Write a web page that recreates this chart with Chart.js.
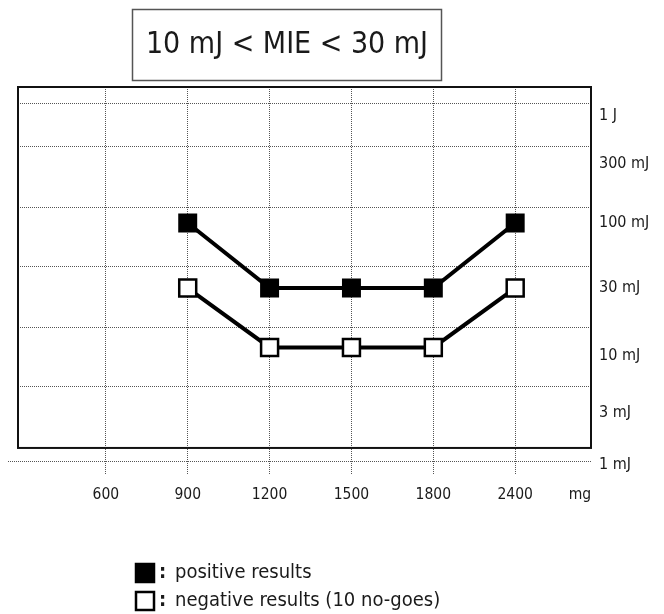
<!DOCTYPE html>
<html>
<head>
<meta charset="utf-8">
<script src="https://cdn.jsdelivr.net/npm/chart.js@4"></script>
<style>
  html, body { margin: 0; padding: 0; background: #fff; }
</style>
</head>
<body>
<canvas id="mieChart" width="664" height="614"></canvas>
<script>
const chartTitle = '10 mJ < MIE < 30 mJ';
const doses = ['600', '900', '1200', '1500', '1800', '2400'];
const doseUnit = 'mg';
// ignition energy in mJ for each dose, null = not tested
const positive = [null, 100, 30, 30, 30, 100];
const negative = [null, 30, 10, 10, 10, 30];
const seriesNames = ['positive results', 'negative results (10 no-goes)'];
const energyLabels = ['1 J', '300 mJ', '100 mJ', '30 mJ', '10 mJ', '3 mJ', '1 mJ'];
// where each energy label sits on the log axis (hand drawn original)
const labelLevels = [720, 300, 100, 30, 8.5, 3, 1.15];
// dotted horizontal rules of the original sheet
const gridLevels = [903, 408, 134, 44.4, 14.6, 4.82, 1.22];

const FONT = "'DejaVu Sans Condensed', 'DejaVu Sans', sans-serif";
const INK = '#1a1a1a';
const GRID = '#555';
const yMin = 0.946, yMax = 1236;
const frameFloor = 1.56;

Chart.defaults.font.family = FONT;
Chart.defaults.color = INK;

const framePlugin = {
  id: 'frame',
  beforeDatasetsDraw(chart) {
    const ctx = chart.ctx, a = chart.chartArea;
    const bottom = chart.scales.y.getPixelForValue(frameFloor);
    ctx.save();
    ctx.strokeStyle = '#111';
    ctx.lineWidth = 2;
    ctx.strokeRect(a.left, a.top, a.right - a.left, bottom - a.top);
    ctx.restore();
  }
};

const titleLegendPlugin = {
  id: 'titleLegend',
  afterDraw(chart) {
    const ctx = chart.ctx;
    ctx.save();
    // title box
    ctx.strokeStyle = '#555';
    ctx.lineWidth = 1.5;
    ctx.strokeRect(132.5, 9.5, 309, 71);
    ctx.fillStyle = INK;
    ctx.font = '30px ' + FONT;
    ctx.textAlign = 'center';
    ctx.textBaseline = 'middle';
    ctx.fillText(chartTitle, 287, 45);

    // legend
    ctx.textAlign = 'left';
    chart.data.datasets.forEach((ds, i) => {
      const cy = 573 + i * 28;
      ctx.fillStyle = ds.pointBackgroundColor;
      ctx.fillRect(136, cy - 9, 18, 18);
      ctx.strokeStyle = '#000';
      ctx.lineWidth = 2.5;
      ctx.strokeRect(136, cy - 9, 18, 18);
      ctx.fillStyle = INK;
      ctx.font = 'bold 20px ' + FONT;
      ctx.fillText(':', 159, cy);
      ctx.font = '20px ' + FONT;
      ctx.fillText(ds.label, 175, cy);
    });
    ctx.restore();
  }
};

function seriesData(values) {
  return values.map((v, i) => ({ x: i, y: v }));
}

new Chart(document.getElementById('mieChart'), {
  type: 'line',
  data: {
    datasets: [
      {
        label: seriesNames[0],
        data: seriesData(positive),
        borderColor: '#000',
        borderWidth: 4,
        pointStyle: 'rect',
        pointRadius: 12,
        pointBorderWidth: 2,
        pointBackgroundColor: '#000',
        pointBorderColor: '#000',
      },
      {
        label: seriesNames[1],
        data: seriesData(negative),
        borderColor: '#000',
        borderWidth: 4,
        pointStyle: 'rect',
        pointRadius: 12,
        pointBorderWidth: 2.5,
        pointBackgroundColor: '#fff',
        pointBorderColor: '#000',
      },
    ],
  },
  options: {
    responsive: false,
    animation: false,
    layout: { padding: { left: 0, right: 0, top: 87, bottom: 99 } },
    plugins: { legend: { display: false }, tooltip: { enabled: false } },
    scales: {
      x: {
        type: 'linear',
        min: -1.073,
        max: 5.926,
        afterBuildTicks: (s) => {
          s.ticks = doses.map((d, i) => ({ value: i })).concat([{ value: 5.79 }]);
        },
        ticks: {
          autoSkip: false,
          maxRotation: 0,
          padding: 11,
          font: { size: 15.5 },
          callback: (v, i) => (i < doses.length ? doses[i] : doseUnit),
        },
        grid: {
          color: (c) => (c.index < doses.length ? GRID : 'rgba(0,0,0,0)'),
          lineWidth: 1,
          drawTicks: false,
          borderDash: [1, 1],
        },
        border: { display: false, dash: [1, 1] },
        afterFit: (s) => { s.height = 40; },
      },
      y: {
        type: 'logarithmic',
        position: 'left',
        min: yMin,
        max: yMax,
        afterBuildTicks: (s) => {
          s.ticks = gridLevels.map((v) => ({ value: v }));
        },
        ticks: { display: false },
        grid: {
          color: GRID,
          lineWidth: 1,
          borderDash: [1, 1],
          drawTicks: true,
          tickLength: 10,
          tickBorderDash: [1, 1],
          tickColor: (c) => (c.index === gridLevels.length - 1 ? GRID : 'rgba(0,0,0,0)'),
        },
        border: { display: false, dash: [1, 1] },
        afterFit: (s) => { s.width = 18; },
      },
      y2: {
        type: 'logarithmic',
        position: 'right',
        min: yMin,
        max: yMax,
        afterBuildTicks: (s) => {
          s.ticks = labelLevels.map((v) => ({ value: v }));
        },
        ticks: {
          autoSkip: false,
          padding: 8,
          font: { size: 16 },
          callback: (v, i) => energyLabels[i],
        },
        grid: { display: false, drawTicks: false },
        border: { display: false },
        afterFit: (s) => { s.width = 73; },
      },
    },
  },
  plugins: [framePlugin, titleLegendPlugin],
});
</script>
</body>
</html>
